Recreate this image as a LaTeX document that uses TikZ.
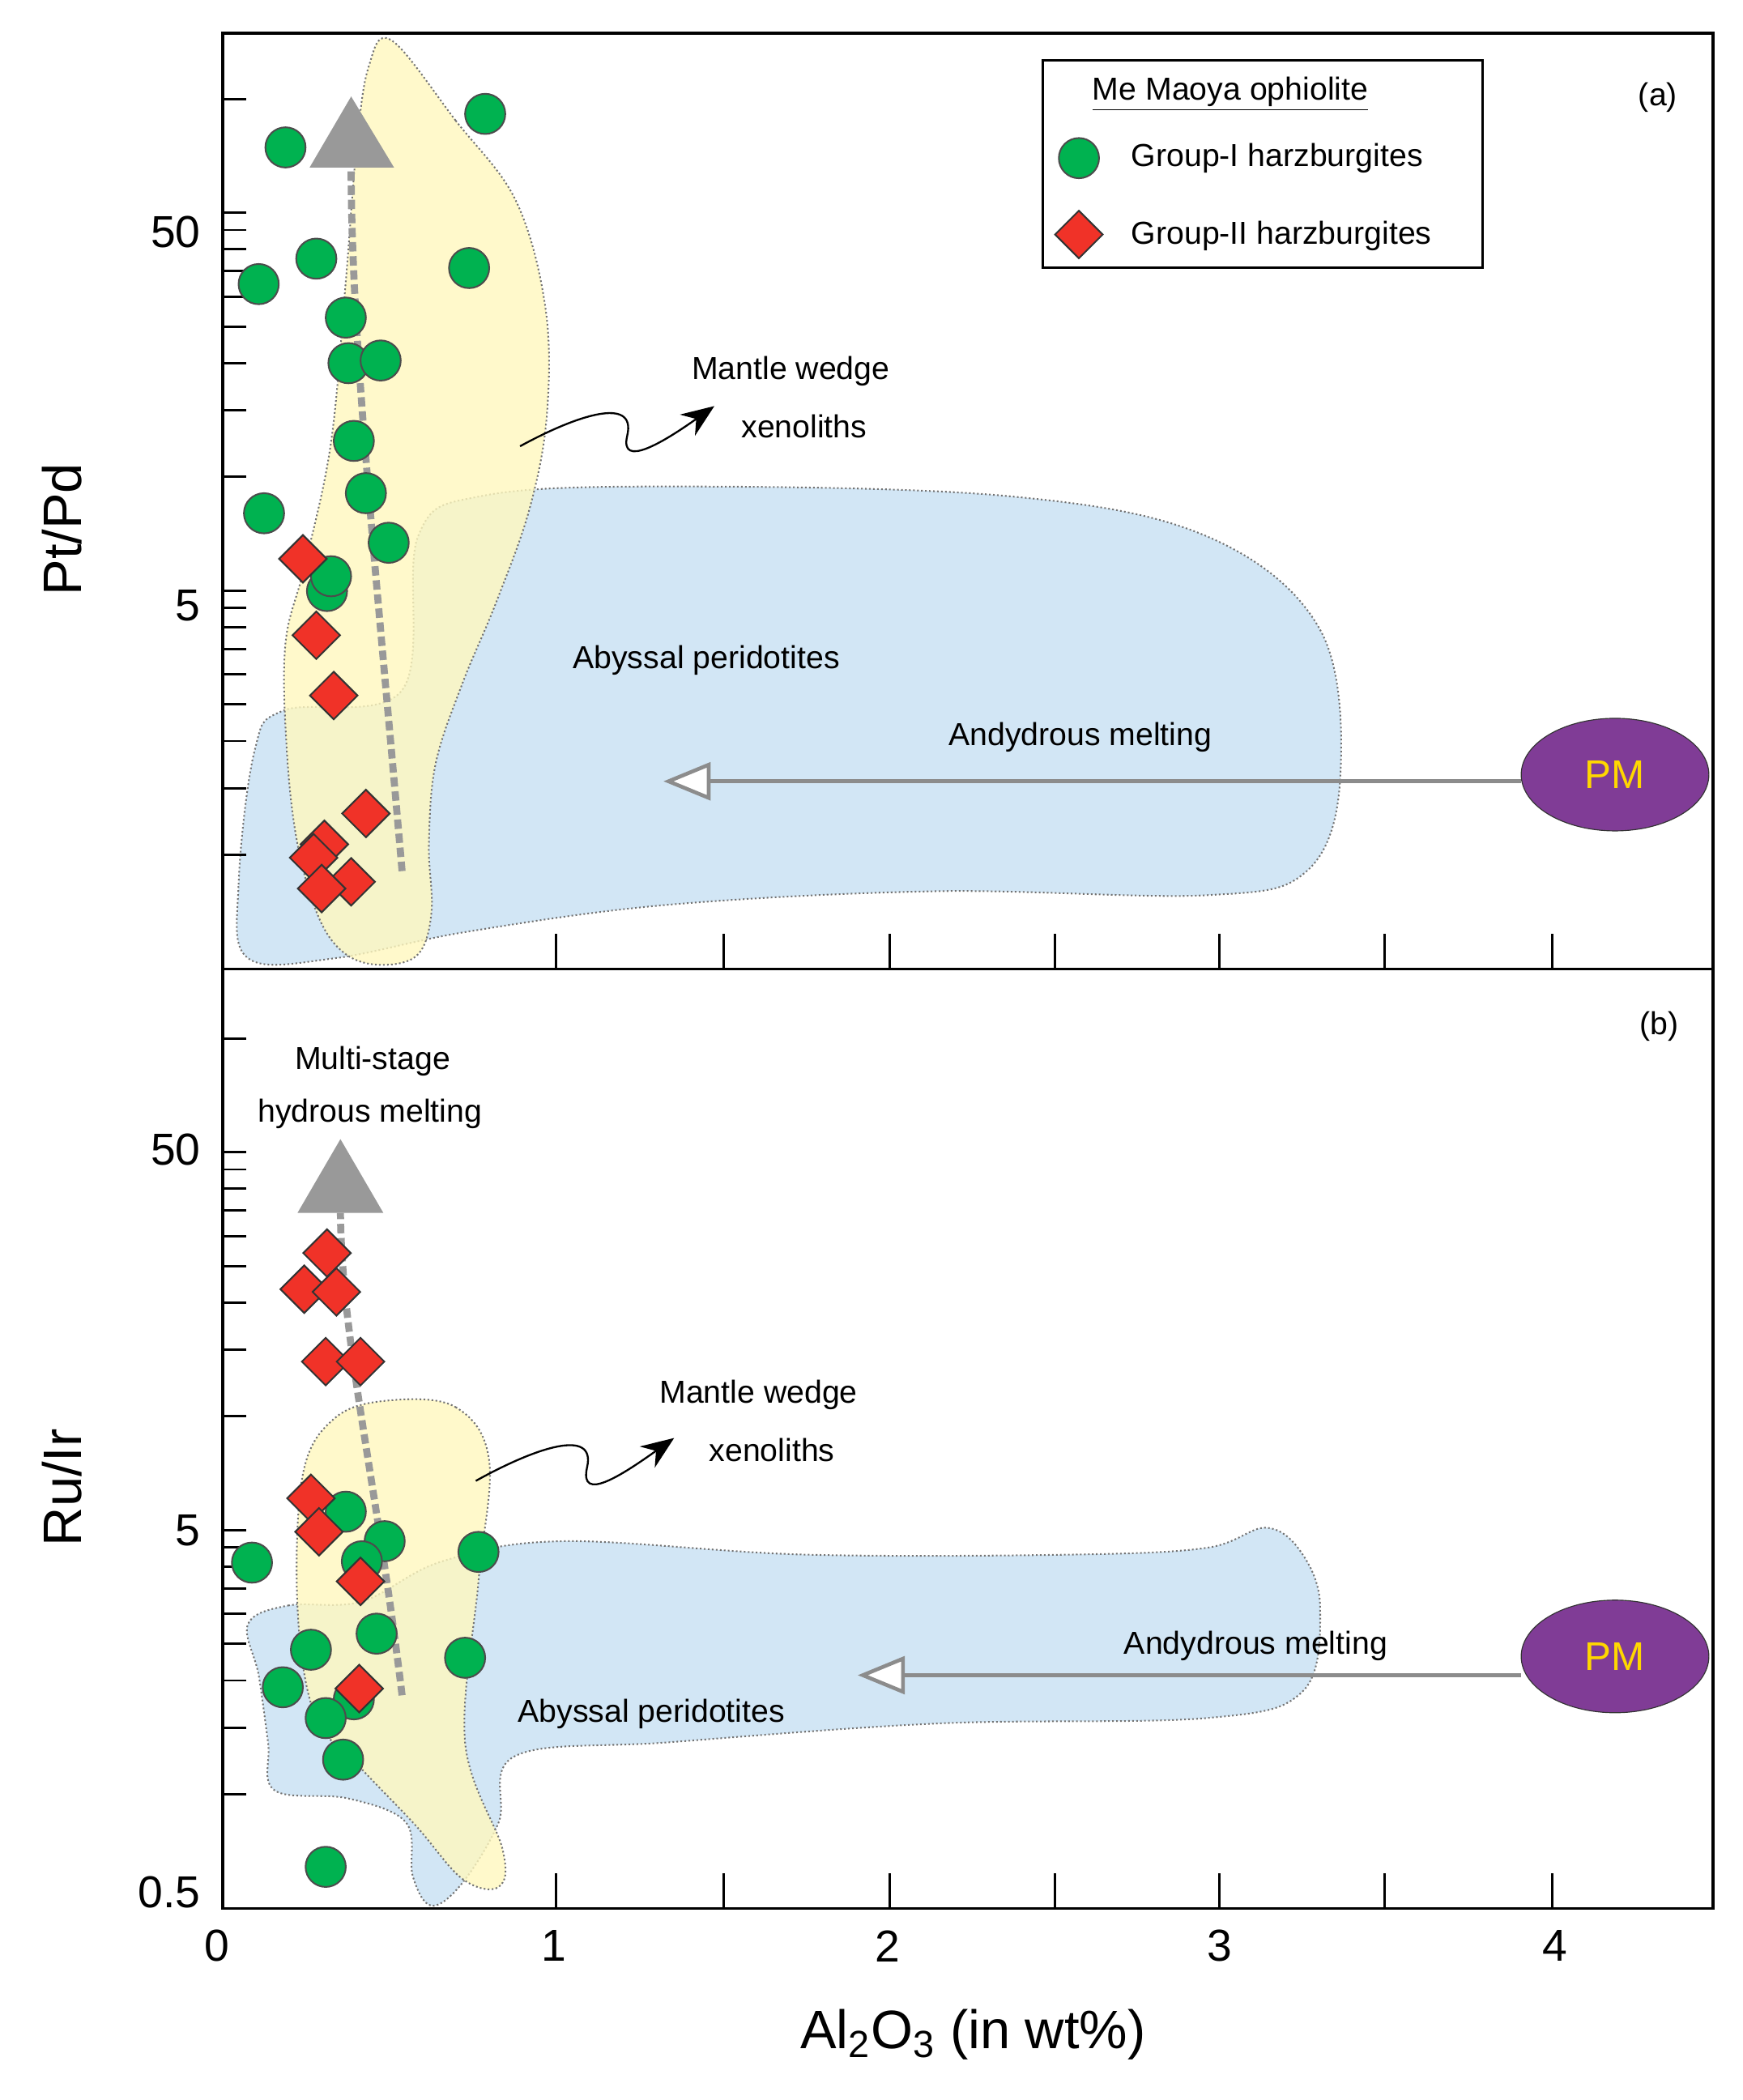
\documentclass[tikz,border=0pt]{standalone}
\usepackage{fontspec}
\setmainfont{Liberation Sans}
\usetikzlibrary{arrows.meta,shapes.geometric}
\definecolor{grn}{RGB}{0,178,80}
\definecolor{rd}{RGB}{240,50,40}
\definecolor{yel}{RGB}{255,248,190}
\definecolor{blu}{RGB}{210,230,245}
\definecolor{pur}{RGB}{128,60,150}
\definecolor{pmtx}{RGB}{255,215,0}
\newcommand{\upx}{*0.5692}
\tikzset{
 gp/.style={circle,draw=black!70,fill=grn,minimum size=30\upx,inner sep=0pt,line width=0.7pt},
 rp/.style={diamond,draw=black!80,fill=rd,minimum size=36\upx,inner sep=0pt,line width=0.7pt},
 lbl/.style={font=\fontsize{13.5}{16}\selectfont,inner sep=1pt},
 tk/.style={font=\fontsize{19}{22}\selectfont,inner sep=0pt},
 region/.style={draw=black!55,densely dotted,line width=0.7pt},
 trend/.style={draw=black!40,line width=3pt,dash pattern=on 4pt off 2pt},
 melt/.style={draw=black!45,line width=1.6pt},
 pm/.style={ellipse,draw=black!80,fill=pur,minimum width=140\upx,minimum height=84\upx,text=pmtx,font=\fontsize{17}{20}\selectfont},
 sq/.style={draw=black,line width=0.8pt,-{Stealth[length=14pt,width=11pt]}},
}
\begin{document}
\begin{tikzpicture}[x=0.02cm,y=-0.02cm]
\useasboundingbox (0,0) rectangle (1300,1567);
% ---------- panel a regions
\fill[blu,region] plot[smooth cycle,tension=0.6] coordinates{(185,715)(178,660)(190,560)(212,530)(300,515)(312,400)(360,370)(500,363)(750,370)(900,400)(985,470)(1000,580)(975,650)(900,668)(700,665)(500,675)(350,695)(250,715)};
\fill[yel,fill opacity=0.8,region] plot[smooth cycle,tension=0.6] coordinates{(292,30)(340,90)(385,150)(407,230)(408,310)(395,380)(370,450)(345,510)(325,570)(320,630)(322,680)(312,712)(285,720)(258,712)(238,685)(222,630)(214,560)(213,480)(228,420)(247,330)(258,210)(266,110)(275,50)};
% ---------- panel b regions
\fill[blu,region] plot[smooth cycle,tension=0.6] coordinates{(185,1212)(215,1198)(270,1195)(330,1165)(420,1150)(600,1160)(800,1160)(900,1155)(945,1140)(972,1160)(985,1200)(972,1262)(900,1282)(700,1286)(500,1300)(385,1310)(372,1360)(345,1405)(322,1422)(308,1400)(303,1360)(260,1342)(205,1336)(200,1300)(193,1250)};
\fill[yel,fill opacity=0.8,region] plot[smooth cycle,tension=0.6] coordinates{(290,1045)(340,1050)(365,1090)(357,1180)(347,1300)(375,1380)(372,1408)(345,1402)(310,1362)(268,1318)(235,1280)(222,1200)(226,1100)(250,1058)};
% ---------- axes frames
\draw[line width=1.3pt] (166,25) rectangle (1278,1424);
\draw[line width=1.3pt] (166,723) -- (1278,723);
% bottom ticks
\foreach \xx in {415,540,664,787,910,1033,1158}{
 \draw[line width=1pt] (\xx,723) -- (\xx,697);
 \draw[line width=1pt] (\xx,1424) -- (\xx,1398);}
% log ticks
\foreach \off in {0,701}{
 \foreach \v in {2,3,4,5,6,7,8,9,10,20,30,40,50,60,70,80,90,100,200}{
  \pgfmathsetmacro\yy{440.7-282*log10(\v/10)+\off}
  \draw[line width=1pt] (166,\yy) -- (184,\yy);}}
% tick labels
\node[tk] (x0) at (162,1452) {0};
\node[tk] (x1) at (413,1452) {1};
\node[tk] (x2) at (662,1452) {2};
\node[tk] (x3) at (910,1452) {3};
\node[tk] (x4) at (1160,1452) {4};
\node[tk,anchor=east] (ya50) at (150,173) {50};
\node[tk,anchor=east] (ya5) at (150,452) {5};
\node[tk,anchor=east] (yb50) at (150,858) {50};
\node[tk,anchor=east] (yb5) at (150,1142) {5};
\node[tk,anchor=east] (yb05) at (150,1412) {0.5};
\node[rotate=90,font=\fontsize{23}{26}\selectfont] (yla) at (46,395) {Pt/Pd};
\node[rotate=90,font=\fontsize{23}{26}\selectfont] (ylb) at (46,1110) {Ru/Ir};
\node[font=\fontsize{23}{26}\selectfont] (xl) at (726,1518) {Al\textsubscript{2}O\textsubscript{3} (in wt\%)};
% ---------- panel a annotations
\draw[trend] (300,650) .. controls (280,420) and (262,250) .. (262,125);
\fill[black!40] (262,72) -- (231,125) -- (294,125) -- cycle;
\node[lbl] (mwa1) at (590,277) {Mantle wedge};
\node[lbl] (mwa2) at (600,318) {xenoliths};
\coordinate (sqa0) at (388,333);
\coordinate (sqa1) at (533,303);
\draw[sq] (sqa0) .. controls (430,310) and (475,295) .. (468,325) .. controls (462,350) and (495,330) .. (sqa1);
\node[lbl] (aba) at (527,493) {Abyssal peridotites};
\node[lbl] (ama) at (806,550) {Andydrous melting};
\node[pm] (pma) at (1205,578) {PM};
\coordinate (mea) at (495,583);
\draw[melt,-{Triangle[length=20pt,width=16pt,open,fill=white]}] (pma.west|-mea) -- (mea);
\node[lbl] (pa) at (1237,73) {(a)};
% ---------- panel b annotations
\draw[trend] (300,1265) .. controls (280,1100) and (255,1000) .. (254,905);
\fill[black!40] (254,850) -- (222,905) -- (286,905) -- cycle;
\node[lbl] (ms1) at (278,792) {Multi-stage};
\node[lbl] (ms2) at (276,831) {hydrous melting};
\node[lbl] (mwb1) at (566,1041) {Mantle wedge};
\node[lbl] (mwb2) at (576,1082) {xenoliths};
\coordinate (sqb0) at (355,1105);
\coordinate (sqb1) at (503,1073);
\draw[sq] (sqb0) .. controls (400,1080) and (445,1065) .. (438,1095) .. controls (432,1122) and (465,1100) .. (sqb1);
\node[lbl] (abb) at (486,1279) {Abyssal peridotites};
\node[lbl] (amb) at (937,1228) {Andydrous melting};
\node[pm] (pmb) at (1205,1236) {PM};
\coordinate (meb) at (640,1250);
\draw[melt,-{Triangle[length=20pt,width=16pt,open,fill=white]}] (pmb.west|-meb) -- (meb);
\node[lbl] (pb) at (1238,766) {(b)};
% ---------- data panel a
\foreach \p [count=\i] in {(213,110),(362,85),(236,193),(350,200),(193,212),(258,237),(260,271),(284,269),(264,329),(197,383),(273,368),(290,405),(244,441),(247,430)}
 \node[gp] (ga\i) at \p {};
\foreach \p [count=\i] in {(226,417),(236,474),(249,519),(273,607),(242,630),(234,640),(262,658),(240,663)}
 \node[rp] (ra\i) at \p {};
% ---------- data panel b
\foreach \p [count=\i] in {(188,1166),(258,1128),(287,1150),(270,1165),(357,1158),(232,1231),(281,1219),(347,1237),(211,1259),(264,1268),(243,1282),(256,1313),(243,1393)}
 \node[gp] (gb\i) at \p {};
\foreach \p [count=\i] in {(244,935),(227,962),(251,964),(243,1016),(269,1016),(232,1118),(238,1143),(269,1180),(268,1260)}
 \node[rp] (rb\i) at \p {};
% ---------- legend
\node[draw=black,line width=1pt,fill=white,minimum width=328\upx,minimum height=155\upx,inner sep=0pt] (leg) at (942,122.5) {};
\node[lbl] (legt) at (918,70) {\underline{Me Maoya ophiolite}};
\node[gp] (lg1) at (805,118) {};
\node[lbl,anchor=west] (lgt1) at (842,118) {Group-I harzburgites};
\node[rp] (lg2) at (805,175) {};
\node[lbl,anchor=west] (lgt2) at (842,176) {Group-II harzburgites};
\end{tikzpicture}
\end{document}
